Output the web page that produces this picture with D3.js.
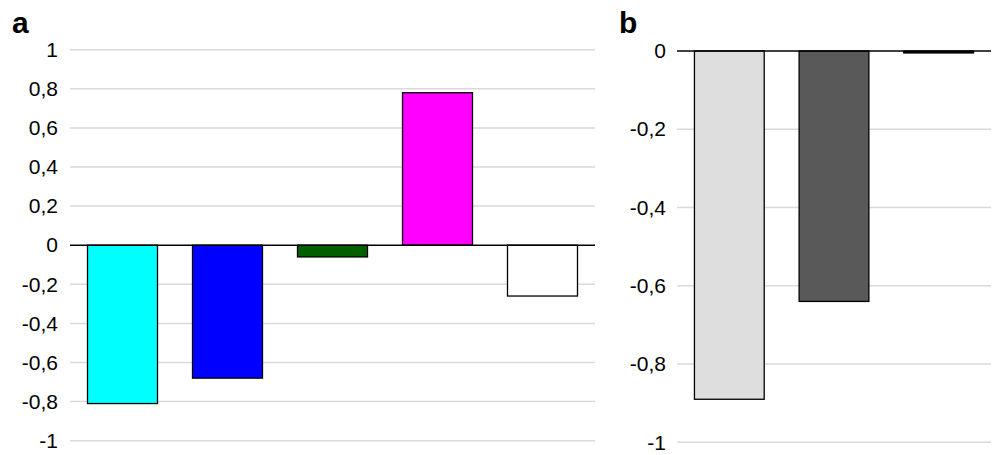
<!DOCTYPE html>
<html><head><meta charset="utf-8">
<script src="https://cdn.jsdelivr.net/npm/d3@7"></script>
<style>body{margin:0;background:#fff}svg{display:block;font-family:"Liberation Sans",Arial,sans-serif}</style>
</head><body>
<script>
const catsA = ["A1","A2","A3","A4","A5"];
const valsA = [-0.81, -0.68, -0.06, 0.78, -0.26];
const colorsA = ["#00ffff","#0000ff","#006000","#ff00ff","#ffffff"];
const ticksA = [1,0.8,0.6,0.4,0.2,0,-0.2,-0.4,-0.6,-0.8,-1];

const catsB = ["B1","B2","B3"];
const valsB = [-0.89, -0.64, -0.005];
const colorsB = ["#dedede","#595959","#000000"];
const ticksB = [0,-0.2,-0.4,-0.6,-0.8,-1];

const fmt = d => String(d).replace(".", ",");

const svg = d3.select("body").append("svg").attr("width",992).attr("height",455);

function panel(cfg){
  const g = svg.append("g");
  const x = d3.scaleBand().domain(cfg.cats).range([cfg.x0,cfg.x1]).paddingInner(1/3).paddingOuter(1/6);
  const y = d3.scaleLinear().domain(cfg.domain).range([cfg.y0,cfg.y1]);
  g.append("g").selectAll("line").data(cfg.ticks.filter(t=>t!==0)).join("line")
    .attr("x1",cfg.x0).attr("x2",cfg.x1).attr("y1",d=>y(d)).attr("y2",d=>y(d))
    .attr("stroke","#d9d9d9").attr("stroke-width",1.5);
  const ax = d3.axisLeft(y).tickValues(cfg.ticks).tickFormat(fmt).tickSize(0).tickPadding(cfg.pad);
  const axg = g.append("g").attr("transform",`translate(${cfg.x0},0)`).call(ax);
  axg.select(".domain").remove();
  axg.selectAll("text").attr("font-size",21).attr("fill","#000").attr("font-family","Liberation Sans, Arial, sans-serif");
  g.append("g").selectAll("rect").data(cfg.vals).join("rect")
    .attr("x",(d,i)=>x(cfg.cats[i])).attr("width",x.bandwidth())
    .attr("y",d=>y(Math.max(0,d))).attr("height",d=>Math.max(1,Math.abs(y(d)-y(0))))
    .attr("fill",(d,i)=>cfg.colors[i]).attr("stroke","#000").attr("stroke-width",1.3);
  g.append("line").attr("x1",cfg.x0).attr("x2",cfg.x1).attr("y1",y(0)).attr("y2",y(0))
    .attr("stroke","#000").attr("stroke-width",1.5);
  svg.append("text").attr("x",cfg.lx).attr("y",33).text(cfg.label)
    .attr("font-size",30).attr("font-weight","bold");
}

panel({cats:catsA, vals:valsA, colors:colorsA, ticks:ticksA, domain:[-1,1],
  x0:70, x1:595, y0:440.7, y1:49.7, pad:12, label:"a", lx:12});
panel({cats:catsB, vals:valsB, colors:colorsB, ticks:ticksB, domain:[-1,0],
  x0:677, x1:991, y0:442.3, y1:51, pad:11, label:"b", lx:619});
</script>
</body></html>
